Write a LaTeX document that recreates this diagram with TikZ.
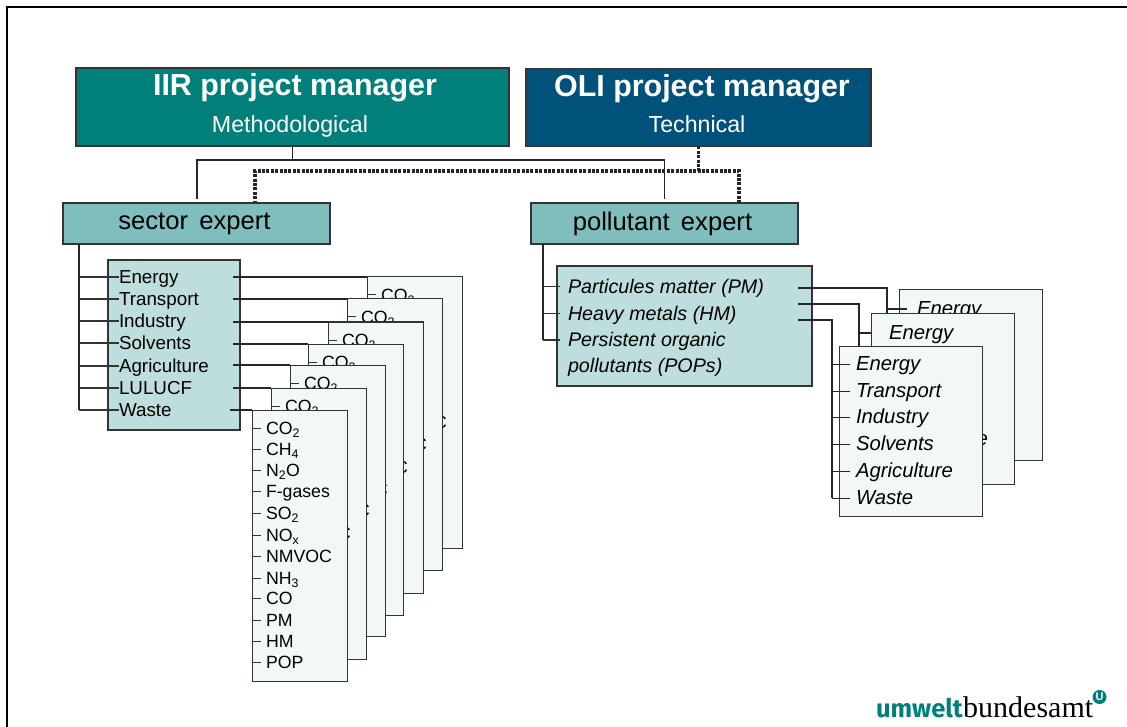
\documentclass[tikz,border=0pt]{standalone}
\usepackage{fontspec}
\setmainfont{Liberation Sans}
\newfontfamily\logobold{Fira Sans}
\newfontfamily\logoserif{Liberation Serif}
\usetikzlibrary{calc,positioning}
\definecolor{iirteal}{HTML}{007F7B}
\definecolor{olinavy}{HTML}{00527A}
\definecolor{expertfill}{HTML}{80BDBD}
\definecolor{listfill}{HTML}{BEDEDE}
\definecolor{sheetfill}{HTML}{F1F8F7}
\newcommand\fsz[1]{\fontsize{#1}{#1}\selectfont}
\newcommand\lowstrut{\rule[-8pt]{0pt}{8pt}}
\tikzset{headbox/.style = {rectangle, draw=black!80, line width=1.2pt, text=white, inner sep=0pt, outer sep=0pt, align=center, minimum height=78pt},
    expertbox/.style = {rectangle, draw=black!80, line width=1.2pt, fill=expertfill, inner sep=0pt, outer sep=0pt, minimum width=267pt, minimum height=41pt, font=\fsz{25.6}},
    listbox/.style = {rectangle, draw=black!80, line width=1.2pt, fill=listfill, inner sep=0pt, outer sep=0pt, anchor=north west},
    sheet/.style = {rectangle, draw=black!80, line width=1pt, fill=sheetfill, inner sep=0pt, outer sep=0pt, anchor=north west, minimum width=95pt, minimum height=271.5pt},
    sheetb/.style = {sheet, minimum width=143.5pt, minimum height=170pt},
    item/.style = {inner sep=0pt, outer sep=0pt, anchor=west, text height=13.5pt, text depth=0pt},
    link/.style = {draw=black!85, line width=1.4pt},
    tick/.style = {draw=black!80, line width=1pt},
    dotlink/.style = {draw=black!85, line width=3.6pt, dash pattern=on 3pt off 1.4pt}
}
\begin{document}
\begin{tikzpicture}[x=1pt,y=-1pt]
 \useasboundingbox (0,0) rectangle (1127,727);
 \draw[line width=2pt] (7,727) -- (7,7) -- (1127,7);

 \node[headbox, fill=iirteal, minimum width=433pt] (iir) at (292.5,107) {\raisebox{2pt}{\hspace{5pt}\fsz{30.4}\bfseries IIR project manager}\\[12pt]{\fsz{23.2}Methodological\hspace{5pt}\lowstrut}};
 \node[headbox, fill=olinavy, minimum width=345pt] (oli) at (698.5,107.5) {\raisebox{2pt}{\hspace{7pt}\fsz{30.4}\bfseries OLI project manager}\\[12pt]{\fsz{23.2}Technical\hspace{3pt}\lowstrut}};
 \node[expertbox] (sector) at (196.5,223.5) {\raisebox{-3pt}{sector\, expert\hspace{4pt}}};
 \node[expertbox] (pollutant) at (664.5,223.5) {\raisebox{-3pt}{pollutant\, expert\hspace{4pt}}};

 %solid and dotted bars
 \coordinate (iirbar) at (292.5,160);
 \coordinate (olibar) at (698.5,171);
 \coordinate (dotl) at (255,171);
 \coordinate (dotr) at (739,171);
 \draw[link] (iir.south) -- (iirbar);
 \draw[link, line width=2pt, shorten >=4pt] (iirbar) -| (sector.north);
 \draw[link, shorten >=4pt] (iirbar) -| (pollutant.north);
 \draw[dotlink] (oli.south) -- (olibar);
 \draw[dotlink, shorten >=1pt] (dotr |- pollutant.north) -- (dotr) -- (dotl) -- (dotl |- sector.north);

 %sector side
 \node[listbox, minimum width=132pt, minimum height=170pt] (seclist) at (108,260) {};
 \coordinate (secbus) at (79,244);
 \coordinate (secend) at (79,410);
 \draw[link, line width=2pt] (secbus) -- (secend);
 \foreach \s/\lab/\y/\l/\t/\o in {1/Energy/277/367/277/7,2/Transport/299/347/299/7,3/Industry/321/328/322/7,4/Solvents/343/308/344/7,5/Agriculture/366/290/365/7,6/LULUCF/388/271/388/7,7/Waste/410/252/410/10}{
  \node[item, font=\fsz{18.8}] (sec\s) at (119,\y) {\lab};
  \draw[tick, line width=1.3pt] (secbus |- sec\s.west) -- (sec\s.west);
  \node[sheet] (sheet\s) at (\l,\t) {};
  \draw[link] ($(seclist.east |- sheet\s.north west)+(-\o,0)$) -- (sheet\s.north west);
  \ifnum\s<7
  \node[item, font=\fsz{17.7}] (co\s) at ({\l+14},{\t+18}) {CO\textsubscript{2}};
  \node[item, font=\fsz{17.7}, anchor=east] (nm\s) at ({\l+14+66},{\t+145}) {C};
  \draw[tick, shorten >=5pt] (sheet\s.west |- co\s.west) -- (co\s.west);
  \fi
 }
 \foreach \s/\lab/\y in {1/{CO\textsubscript{2}}/428,2/{CH\textsubscript{4}}/449,3/{N\textsubscript{2}O}/470,4/F-gases/491,5/{SO\textsubscript{2}}/513,6/{NO\textsubscript{x}}/535,7/NMVOC/556,8/{NH\textsubscript{3}}/578,9/CO/598,10/PM/620,11/HM/641,12/POP/662}{
  \node[item, font=\fsz{17.7}] (gas\s) at (266,\y) {\lab};
  \draw[tick, shorten >=5pt] (sheet7.west |- gas\s.west) -- (gas\s.west);
 }

 %pollutant side
 \node[listbox, minimum width=255pt, minimum height=120pt] (pollist) at (557,266) {};
 \coordinate (polbus) at (543,244);
 \coordinate (polend) at (543,340);
 \draw[link, line width=1.8pt] (polbus) -- (polend);
 \foreach \s/\lab/\y in {1/Particules matter (PM)/286.5,2/Heavy metals (HM)/313.5,3/Persistent organic/340}{
  \node[item, font=\fsz{19.7}\itshape] (pol\s) at (568,\y) {\lab};
  \draw[tick, line width=1.3pt, shorten >=8pt] (polbus |- pol\s.west) -- (pol\s.west);
 }
 \node[item, font=\fsz{19.7}\itshape] (pol4) at (568,366) {pollutants (POPs)};

 \coordinate (stuba) at (798,288);
 \coordinate (stubb) at (798,304);
 \coordinate (stubc) at (798,320);
 \coordinate (busa) at (887,314);
 \coordinate (busb) at (859,346);
 \coordinate (busc) at (832,498);
 \draw[link] (stuba) -| (busa);
 \draw[link] (stubb) -| (busb);
 \draw[link] (stubc) -| (busc);
 \node[sheetb] (back) at (899,290) {};
 \node[item, font=\fsz{20.3}\itshape] (backe) at (917,309) {Energy};
 \draw[link, shorten >=10pt] (busa |- backe.west) -- (backe.west);
 \node[sheetb] (mid) at (871,314) {};
 \node[item, font=\fsz{20.3}\itshape] (mide) at (889,333) {Energy};
 \node[item, font=\fsz{20.3}\itshape, anchor=east] (mida) at (988,439) {e};
 \draw[link] (busb |- mide.west) -- (mid.west |- mide.west);
 \node[sheetb] (front) at (839,346) {};
 \foreach \s/\lab/\y in {1/Energy/364,2/Transport/391,3/Industry/417,4/Solvents/444,5/Agriculture/471,6/Waste/498}{
  \node[item, font=\fsz{20.3}\itshape] (sect\s) at (856,\y) {\lab};
  \draw[link, line width=1pt, shorten >=6pt] (busc |- sect\s.west) -- (sect\s.west);
 }

 %logo
 \node[inner sep=0pt, anchor=base east, text=iirteal, font=\logobold\fsz{25.5}\bfseries] (logoa) at (963,717) {umwelt};
 \node[inner sep=0pt, anchor=base west, font=\logoserif\fsz{30}] (logob) at (963,717) {bundesamt};
 \node[circle, fill=iirteal, text=white, inner sep=0pt, minimum size=14pt, font=\fsz{11}\bfseries] (logoc) at (1099.5,697) {U};
\end{tikzpicture}
\end{document}
